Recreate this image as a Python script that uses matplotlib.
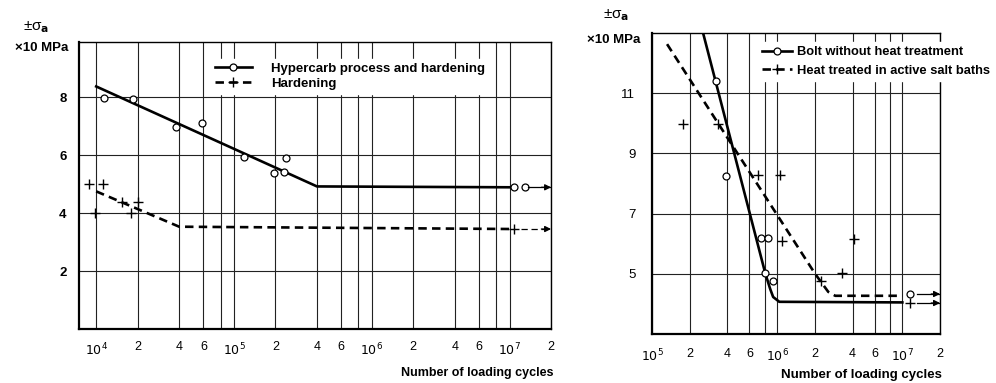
import numpy as np
import matplotlib.pyplot as plt
from matplotlib.lines import Line2D
from matplotlib.legend_handler import HandlerLine2D

plt.rcParams['font.family'] = ['Liberation Sans', 'DejaVu Sans']

# ---- left chart: Hypercarb vs hardening ----
left_ticks = [1e4, 2e4, 4e4, 6e4, 8e4, 1e5, 2e5, 4e5, 6e5, 8e5,
              1e6, 2e6, 4e6, 6e6, 8e6, 1e7, 2e7]
left_ticklabels = ['$10^4$', '2', '4', '6', '', '$10^5$', '2', '4', '6', '',
                   '$10^6$', '2', '4', '6', '', '$10^7$', '2']
left_yticks = [2, 4, 6, 8]

hyper_x = [1.14e4, 1.86e4, 3.8e4, 5.9e4, 1.18e5, 1.95e5, 2.3e5, 2.4e5, 1.07e7, 1.29e7]
hyper_y = [7.96, 7.95, 6.97, 7.11, 5.93, 5.37, 5.41, 5.9, 4.89, 4.89]
hyper_line_x = [1e4, 4e5, 1.07e7]
hyper_line_y = [8.37, 4.92, 4.89]
hyper_arrow_x = [1.36e7, 2e7]
hyper_arrow_y = [4.89, 4.89]

hard_x = [8.9e3, 1.12e4, 1.55e4, 2.02e4, 9.8e3, 1.8e4, 1.07e7]
hard_y = [4.99, 4.99, 4.4, 4.4, 4.02, 4.02, 3.45]
hard_line_x = [1e4, 4e4, 1.07e7]
hard_line_y = [4.75, 3.53, 3.45]
hard_arrow_x = [1.2e7, 2e7]
hard_arrow_y = [3.45, 3.45]

# ---- right chart: bolts ----
right_ticks = [1e5, 2e5, 4e5, 6e5, 8e5, 1e6, 2e6, 4e6, 6e6, 8e6, 1e7, 2e7]
right_ticklabels = ['$10^5$', '2', '4', '6', '', '$10^6$', '2', '4', '6', '',
                    '$10^7$', '2']
right_yticks = [5, 7, 9, 11]

bolt_x = [3.25e5, 3.91e5, 7.45e5, 8.47e5, 8.02e5, 9.29e5, 1.16e7]
bolt_y = [11.4, 8.25, 6.2, 6.2, 5.03, 4.77, 4.33]
bolt_line_x = [2.56e5, 8.02e5, 8.79e5, 9.29e5, 1.04e6, 1e7]
bolt_line_y = [13.0, 5.03, 4.5, 4.23, 4.07, 4.05]
bolt_arrow_x = [1.32e7, 2e7]
bolt_arrow_y = [4.33, 4.33]

salt_x = [1.77e5, 3.37e5, 7.05e5, 1.06e6, 1.10e6, 4.13e6, 3.31e6, 2.25e6, 1.16e7]
salt_y = [9.97, 9.97, 8.27, 8.27, 6.1, 6.17, 5.03, 4.77, 4.03]
salt_line_x = [1.32e5, 2.01e6, 2.56e6, 2.91e6, 1e7]
salt_line_y = [12.63, 5.0, 4.4, 4.27, 4.27]
salt_arrow_x = [1.32e7, 2e7]
salt_arrow_y = [4.03, 4.03]


class MarkerFirst(HandlerLine2D):
    # put the legend marker at the left end of the line sample
    def get_xdata(self, legend, xdescent, ydescent, width, height, fontsize):
        x = np.linspace(-xdescent, -xdescent + width, 2)
        return x, x[:1]


DASH = (0, (3.2, 2.0))
circ = dict(marker='o', ms=5, mfc='white', mec='black', mew=0.9, ls='none')
plus = dict(marker='+', ms=7, mec='black', mew=1.0, ls='none')
SIGMA = '±σ$_\\mathbf{a}$'


def style_axes(ax, ticks, labels, yticks, ypad, xpad):
    ax.set_xscale('log')
    ax.set_xticks(ticks)
    ax.set_xticklabels(labels)
    ax.xaxis.set_minor_locator(plt.NullLocator())
    ax.set_yticks(yticks)
    ax.grid(True, color='#222222', lw=0.8)
    ax.set_axisbelow(True)
    ax.tick_params(length=0)
    ax.tick_params(axis='x', pad=xpad, labelsize=9)
    ax.tick_params(axis='y', pad=ypad, labelsize=9.5)
    for s in ('left', 'bottom'):
        ax.spines[s].set_linewidth(1.6)
    for s in ('top', 'right'):
        ax.spines[s].set_linewidth(1.0)


def arrow(ax, xs, ys, dashed=False):
    ax.plot(xs, ys, color='black', lw=0.9, ls=(0, (5, 3)) if dashed else '-')
    ax.annotate('', xy=(xs[1], ys[1]), xytext=(xs[1] * 0.85, ys[0]),
                arrowprops=dict(arrowstyle='-|>', color='black', lw=0.9,
                                mutation_scale=9, shrinkA=0, shrinkB=0))


def legend(ax, labels, anchor, size, hl, pad, spacing):
    handles = [Line2D([], [], color='black', lw=1.9, marker='o', ms=5,
                      mfc='white', mec='black', mew=0.9),
               Line2D([], [], color='black', lw=1.9, ls=DASH, marker='+',
                      ms=7, mec='black', mew=1.0)]
    return ax.legend(handles, labels, handler_map={Line2D: MarkerFirst()},
                     loc='upper left', bbox_to_anchor=anchor,
                     bbox_transform=fig.transFigure, handlelength=hl,
                     handletextpad=pad, labelspacing=spacing, borderpad=0.3,
                     prop=dict(weight='bold', size=size), frameon=True,
                     fancybox=False, edgecolor='white', facecolor='white',
                     framealpha=1)


fig = plt.figure(figsize=(9.96, 3.83), dpi=100)

# left panel
ax1 = fig.add_axes([0.0793, 0.141, 0.474, 0.749])
style_axes(ax1, left_ticks, left_ticklabels, left_yticks, 9, 9)
for t in ax1.get_yticklabels():
    t.set_fontweight('bold')
ax1.set_xlim(7.5e3, 2e7)
ax1.set_ylim(0, 9.9)
ax1.plot(hyper_line_x, hyper_line_y, color='black', lw=1.9)
ax1.plot(hard_line_x, hard_line_y, color='black', lw=1.9, ls=DASH)
ax1.plot(hyper_x, hyper_y, **circ)
ax1.plot(hard_x, hard_y, **plus)
arrow(ax1, hyper_arrow_x, hyper_arrow_y)
arrow(ax1, hard_arrow_x, hard_arrow_y, dashed=True)
legend(ax1, ['Hypercarb process and hardening', 'Hardening'],
       (204 / 996, 1 - 52 / 383), 9.5, 2.8, 1.5, 0.2)

fig.text(23 / 996, 1 - 27 / 383, SIGMA, fontsize=11, va='center', ha='left')
fig.text(68 / 996, 1 - 48 / 383, '×10 MPa', fontsize=9.5, fontweight='bold',
         va='center', ha='right')
fig.text(553 / 996, 1 - 373 / 383, 'Number of loading cycles', fontsize=9,
         fontweight='bold', va='center', ha='right')

# right panel
ax2 = fig.add_axes([0.6546, 0.1279, 0.2892, 0.7859])
style_axes(ax2, right_ticks, right_ticklabels, right_yticks, 12, 10)
ax2.set_xlim(1e5, 2e7)
ax2.set_ylim(3, 13)
ax2.plot(bolt_line_x, bolt_line_y, color='black', lw=1.9)
ax2.plot(salt_line_x, salt_line_y, color='black', lw=1.9, ls=DASH)
ax2.plot(bolt_x, bolt_y, **circ)
ax2.plot(salt_x, salt_y, **plus)
arrow(ax2, bolt_arrow_x, bolt_arrow_y)
arrow(ax2, salt_arrow_x, salt_arrow_y)
legend(ax2, ['Bolt without heat treatment', 'Heat treated in active salt baths'],
       (752 / 996, 1 - 36 / 383), 9.3, 2.3, 0.4, 0.5)

fig.text(603 / 996, 1 - 15 / 383, SIGMA, fontsize=11, va='center', ha='left')
fig.text(640 / 996, 1 - 40 / 383, '×10 MPa', fontsize=9.5, fontweight='bold',
         va='center', ha='right')
fig.text(942 / 996, 1 - 375 / 383, 'Number of loading cycles', fontsize=9.5,
         fontweight='bold', va='center', ha='right')

fig.savefig('out.png', dpi=100)
